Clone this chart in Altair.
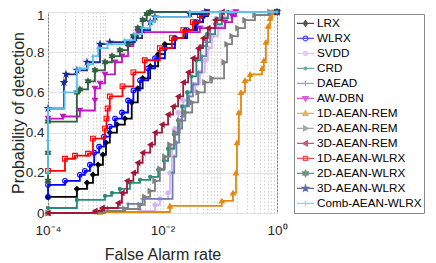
import math
import altair as alt
import pandas as pd

# ---------------- data ----------------
names = ["LRX", "WLRX", "SVDD", "CRD", "DAEAD", "AW-DBN", "1D-AEAN-REM",
         "2D-AEAN-REM", "3D-AEAN-REM", "1D-AEAN-WLRX", "2D-AEAN-WLRX",
         "3D-AEAN-WLRX", "Comb-AEAN-WLRX"]

lrx_far = [1e-4, 3.2e-4, 4.8e-4, 6.1e-4, 7.5e-4, 9.1e-4, 1.03e-3, 1.2e-3, 1.6e-3, 2.2e-3,
           2.9e-3, 3.7e-3, 4.5e-3, 6.1e-3, 8.4e-3, 1.1e-2, 1.65e-2, 2.5e-2, 3.7e-2, 5.1e-2, 6.2e-2, 1.0]
lrx_pd = [0.08, 0.12, 0.15, 0.19, 0.24, 0.29, 0.35, 0.40, 0.44, 0.47,
          0.55, 0.62, 0.67, 0.73, 0.79, 0.84, 0.87, 0.91, 0.95, 0.98, 1.0, 1.0]

wlrx_far = [1e-4, 1e-4, 1.98e-4, 3.6e-4, 4.4e-4, 5.4e-4, 6.4e-4, 7.8e-4, 9.5e-4, 1.2e-3, 1.48e-3,
            1.96e-3, 2.5e-3, 3.1e-3, 4.05e-3, 5.6e-3, 7.4e-3, 1.1e-2, 1.65e-2, 2.7e-2, 4.0e-2,
            5.1e-2, 6.0e-2, 1.0]
wlrx_pd = [0.08, 0.14, 0.16, 0.19, 0.21, 0.24, 0.30, 0.33, 0.38, 0.43, 0.47,
           0.50, 0.56, 0.61, 0.66, 0.72, 0.77, 0.82, 0.87, 0.91, 0.95,
           0.98, 1.0, 1.0]

svdd_far = [1e-4, 6.6e-4, 4.05e-3, 7.4e-3, 9.0e-3, 1.25e-2, 1.35e-2, 1.46e-2, 1.65e-2, 1.87e-2,
            2.3e-2, 2.8e-2, 3.7e-2, 4.5e-2, 5.5e-2, 6.2e-2, 7.3e-2, 9.3e-2, 0.124, 0.165, 1.0]
svdd_pd = [0.0, 0.005, 0.01, 0.04, 0.07, 0.10, 0.20, 0.32, 0.42, 0.50,
           0.56, 0.60, 0.64, 0.70, 0.76, 0.82, 0.88, 0.93, 0.97, 1.0, 1.0]

crd_far = [1e-4, 3.2e-4, 9.9e-4, 1.31e-3, 1.8e-3, 2.7e-3, 4.05e-3, 6.1e-3, 8.4e-3, 1.06e-2,
           1.25e-2, 1.59e-2, 1.87e-2, 2.2e-2, 2.7e-2, 3.2e-2, 3.9e-2, 4.6e-2, 6.0e-2, 8.3e-2,
           0.109, 0.139, 1.0]
crd_pd = [0.025, 0.065, 0.085, 0.10, 0.12, 0.15, 0.165, 0.18, 0.215, 0.26,
          0.32, 0.39, 0.46, 0.53, 0.60, 0.68, 0.76, 0.83, 0.89, 0.94,
          0.97, 1.0, 1.0]

daead_far = [1e-4, 8.1e-4, 1.1e-3, 2.5e-3, 4.5e-3, 1.5e-2, 1.6e-2, 1.75e-2, 1.95e-2, 2.2e-2,
             2.5e-2, 2.9e-2, 3.4e-2, 4.2e-2, 4.9e-2, 5.8e-2, 6.8e-2, 8.6e-2, 0.101, 1.0]
daead_pd = [0.0, 0.01, 0.025, 0.045, 0.07, 0.20, 0.28, 0.35, 0.42, 0.48,
            0.53, 0.58, 0.64, 0.70, 0.78, 0.85, 0.92, 0.97, 1.0, 1.0]

awdbn_far = [1e-4, 1.83e-4, 3.6e-4, 6.6e-4, 6.6e-4, 8.1e-4, 9.9e-4, 1.48e-3, 1.96e-3, 2.5e-3,
             3.1e-3, 3.7e-3, 4.5e-2, 0.124, 0.164, 0.192, 1.0]
awdbn_pd = [0.47, 0.48, 0.51, 0.56, 0.62, 0.645, 0.69, 0.75, 0.78, 0.83,
            0.875, 0.90, 0.92, 0.95, 0.98, 1.0, 1.0]

rem1_far = [1e-4, 8.1e-4, 1.35e-2, 0.109, 0.17, 0.192, 0.20, 0.216, 0.235, 0.276,
            0.338, 0.547, 0.59, 0.64, 0.70, 0.755, 0.82, 1.0]
rem1_pd = [0.0, 0.005, 0.035, 0.06, 0.10, 0.20, 0.35, 0.50, 0.60, 0.66,
           0.69, 0.72, 0.76, 0.85, 0.93, 0.97, 1.0, 1.0]

rem2_far = [1e-4, 9.9e-4, 2.2e-3, 4.05e-3, 4.9e-3, 6.1e-3, 7.4e-3, 9.0e-3, 1.1e-2, 1.35e-2,
            1.65e-2, 2.0e-2, 2.5e-2, 3.3e-2, 4.2e-2, 5.5e-2, 7.3e-2, 0.119, 0.134, 0.164,
            0.208, 0.276, 0.413, 0.755, 1.0]
rem2_pd = [0.0, 0.01, 0.02, 0.04, 0.08, 0.11, 0.16, 0.22, 0.28, 0.34,
           0.40, 0.46, 0.50, 0.55, 0.60, 0.65, 0.67, 0.75, 0.84, 0.88,
           0.92, 0.96, 0.985, 1.0, 1.0]

rem3_far = [1e-4, 6.6e-4, 8.8e-4, 1.67e-3, 1.96e-3, 2.4e-3, 3.1e-3, 3.7e-3, 4.5e-3, 6.1e-3,
            7.4e-3, 9.8e-3, 1.25e-2, 1.53e-2, 1.87e-2, 2.3e-2, 2.8e-2, 3.4e-2, 4.2e-2, 5.1e-2,
            6.2e-2, 8.3e-2, 0.110, 1.0]
rem3_pd = [0.0, 0.01, 0.025, 0.05, 0.10, 0.16, 0.20, 0.25, 0.30, 0.34,
           0.40, 0.44, 0.49, 0.53, 0.58, 0.65, 0.70, 0.77, 0.82, 0.87,
           0.92, 0.96, 1.0, 1.0]

wl1_far = [1e-4, 1.98e-4, 2.96e-4, 5.0e-4, 6.1e-4, 9.9e-4, 1.05e-3, 1.1e-3, 1.2e-3, 2.0e-3,
           3.1e-3, 4.9e-3, 9.0e-3, 1.46e-2, 2.3e-2, 3.4e-2, 4.5e-2, 6.0e-2, 1.0]
wl1_pd = [0.21, 0.27, 0.285, 0.295, 0.37, 0.42, 0.47, 0.52, 0.58, 0.63,
          0.70, 0.76, 0.82, 0.87, 0.91, 0.95, 0.985, 1.0, 1.0]

wl2_far = [1e-4, 1e-4, 1e-4, 3.2e-4, 3.6e-4, 5.0e-4, 6.6e-4, 9.9e-4, 1.31e-3, 1.8e-3, 2.5e-3,
           3.1e-3, 3.7e-3, 4.5e-3, 5.3e-3, 6.1e-3, 1.0]
wl2_pd = [0.16, 0.30, 0.455, 0.60, 0.615, 0.655, 0.71, 0.75, 0.78, 0.81, 0.84,
          0.88, 0.92, 0.96, 0.99, 1.0, 1.0]

wl3_far = [1e-4, 1.9e-4, 2.06e-4, 3.2e-4, 4.8e-4, 8.1e-4, 1.2e-3, 3.3e-3, 4.4e-3, 6.1e-3,
           7.4e-3, 3.0e-2, 5.5e-2, 1.0]
wl3_pd = [0.52, 0.65, 0.69, 0.71, 0.75, 0.84, 0.85, 0.87, 0.91, 0.95,
          0.975, 0.99, 1.0, 1.0]

comb_far = [1e-4, 1e-4, 1e-4, 1.95e-4, 3.2e-4, 3.6e-4, 5.0e-4, 6.1e-4, 7.5e-4, 1.1e-3, 2.2e-3,
            3.3e-3, 4.4e-3, 6.1e-3, 7.4e-3, 3.0e-2, 1.0]
comb_pd = [0.20, 0.36, 0.52, 0.60, 0.71, 0.72, 0.74, 0.78, 0.82, 0.84, 0.86,
           0.89, 0.92, 0.95, 0.975, 1.0, 1.0]

series_far = [lrx_far, wlrx_far, svdd_far, crd_far, daead_far, awdbn_far, rem1_far,
              rem2_far, rem3_far, wl1_far, wl2_far, wl3_far, comb_far]
series_pd = [lrx_pd, wlrx_pd, svdd_pd, crd_pd, daead_pd, awdbn_pd, rem1_pd,
             rem2_pd, rem3_pd, wl1_pd, wl2_pd, wl3_pd, comb_pd]

x_ticks = [1e-4, 1e-2, 1.0]
x_tick_labels = ["10\u207b\u2074", "10\u207b\u00b2", "10\u2070"]
y_ticks = [0, 0.2, 0.4, 0.6, 0.8, 1.0]

# ---------------- styles ----------------
colors = ["#000000", "#0000ff", "#d6b4f3", "#2a8c78", "#6a7fb3", "#c414c4", "#e6870f",
          "#808080", "#a3173b", "#ff0000", "#2f6040", "#1d2d8c", "#5cc3ef"]


def poly(pts, s=1.0):
    return "M" + "L".join(f"{x * s:.3f},{y * s:.3f}" for x, y in pts) + "Z"


HEX = [(0, -1), (0.289, -0.5), (0.866, -0.5), (0.577, 0), (0.866, 0.5), (0.289, 0.5),
       (0, 1), (-0.289, 0.5), (-0.866, 0.5), (-0.577, 0), (-0.866, -0.5), (-0.289, -0.5)]
PENT = [(0, -1), (0.2245, -0.309), (0.951, -0.309), (0.363, 0.118), (0.588, 0.809),
        (0, 0.382), (-0.588, 0.809), (-0.363, 0.118), (-0.951, -0.309), (-0.2245, -0.309)]
PLUS = "M-1,0H1M0,-1V1"

# plot markers: (shape, filled, size)
plot_markers = [
    ("diamond", True, 24), ("circle", False, 22), ("circle", True, 18), ("circle", True, 10),
    (PLUS, False, 18), ("triangle-down", True, 24), ("triangle-up", True, 24),
    ("triangle-right", True, 24), ("triangle-left", True, 24), ("square", False, 22),
    (poly(HEX), True, 34), (poly(PENT), True, 34), (PLUS, False, 22),
]


def circ(r):
    return f"M{r},0A{r},{r},0,1,1,{-r},0A{r},{r},0,1,1,{r},0Z"


LINE = "M-1,0H1"
legend_marks = [
    "M0,-0.33L0.24,0L0,0.33L-0.24,0Z", circ(0.28), circ(0.25), circ(0.16),
    "M0,-0.3V0.3", "M0,0.33L0.3,-0.22H-0.3Z", "M0,-0.33L0.3,0.22H-0.3Z",
    "M0.33,0L-0.22,0.3V-0.3Z", "M-0.33,0L0.22,0.3V-0.3Z", "M-0.24,-0.24H0.24V0.24H-0.24Z",
    poly(HEX, 0.36), poly(PENT, 0.36), "M0,-0.3V0.3",
]
legend_shapes = [LINE + m for m in legend_marks]
legend_fills = [c if f else "#ffffff" for c, (_, f, _) in zip(colors, plot_markers)]

# ---------------- axes ----------------
grid_vals = [m * 10.0 ** e for e in range(-4, 0) for m in range(1, 10)] + [1.0]
label_expr = "".join(
    f"abs(log(datum.value)/LN10 - ({round(math.log10(v))})) < 0.01 ? '{lab}' : "
    for v, lab in zip(x_ticks, x_tick_labels)) + "''"

FONT = "Liberation Sans"
PLOT_H = 201
x_enc = alt.X("far:Q", scale=alt.Scale(type="log", domain=[1e-4, 1]),
              axis=alt.Axis(title="False Alarm rate", values=grid_vals, labelExpr=label_expr,
                            labelFlush=False, labelOverlap=False, labelPadding=10,
                            gridDash=[1.5, 2], gridColor="#d2d2d2", titlePadding=10))
y_enc = alt.Y("pd:Q", scale=alt.Scale(domain=[0, 1]),
              axis=alt.Axis(title="Probability of detection", values=y_ticks, format="~g",
                            labelPadding=4, gridColor="#e2e2e2",
                            labelOffset={"condition": {"test": "datum.value >= 0.99", "value": 3},
                                         "value": 0},
                            titleX=-22, titleY=PLOT_H / 2, titleBaseline="bottom"))

layers = []
for name, far, pdv, col, (shp, filled, sz) in zip(names, series_far, series_pd, colors, plot_markers):
    df = pd.DataFrame({"far": far, "pd": pdv, "series": name})
    base = alt.Chart(df)
    layers.append(base.mark_line(interpolate="step-after", color=col, strokeWidth=1.8)
                  .encode(x=x_enc, y=y_enc))
    layers.append(base.mark_point(shape=shp, fill=col if filled else "transparent", stroke=col,
                                  strokeWidth=1.1, size=sz, opacity=1, fillOpacity=1)
                  .encode(x=x_enc, y=y_enc))

leg = alt.Legend(title=None, orient="none", legendX=246, legendY=2, strokeColor="#8a8a8a",
                 fillColor="#ffffff", padding=2, symbolSize=289, symbolStrokeWidth=1.3,
                 labelFont=FONT, labelFontSize=11.7, labelColor="#000000", labelOffset=2,
                 rowPadding=0, clipHeight=14.86, labelLimit=200)
legend_layer = alt.Chart(pd.DataFrame({"series": names})).mark_point().encode(
    shape=alt.Shape("series:N", scale=alt.Scale(domain=names, range=legend_shapes), legend=leg),
    stroke=alt.Stroke("series:N", scale=alt.Scale(domain=names, range=colors), legend=leg),
    fill=alt.Fill("series:N", scale=alt.Scale(domain=names, range=legend_fills), legend=leg),
).transform_filter("false")

chart = alt.layer(*layers, legend_layer).properties(
    width=229, height=PLOT_H,
    padding={"left": 40, "top": 4, "right": 150, "bottom": 50},
    autosize=alt.AutoSizeParams(type="none"),
).configure_view(stroke="#7f7f7f", strokeWidth=1).configure_axis(
    domain=False, ticks=False, tickSize=0, labelFont=FONT, labelFontSize=13.5,
    labelColor="#262626", titleFont=FONT, titleFontSize=16, titleFontWeight="normal",
    titleColor="#262626",
)

chart.save("out.html", embed_options={"renderer": "svg", "actions": False})
